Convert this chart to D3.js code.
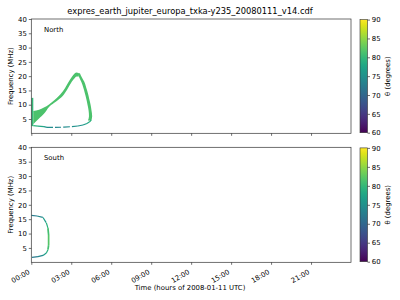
<!DOCTYPE html>
<html><head><meta charset="utf-8">
<script src="https://cdn.jsdelivr.net/npm/d3@7"></script>
<style>
html,body{margin:0;padding:0;background:#fff;}
text{font-family:"DejaVu Sans",sans-serif;fill:#000;}
</style></head>
<body><svg id="c" width="400" height="300"></svg>
<script>
// ---------- data ----------
const titleText = "expres_earth_jupiter_europa_txka-y235_20080111_v14.cdf";
const hourTicks = [0, 3, 6, 9, 12, 15, 18, 21];
const freqTicks = [5, 10, 15, 20, 25, 30, 35, 40];
const thetaTicks = [60, 65, 70, 75, 80, 85, 90];
const panelNames = ["North", "South"];

// North: vertical band at start of day
const northLeftT = [0, 0.15];
const northLeftF = [2.5, 12.4];
const northLeftTheta = 80;
// North: wedge + rising branch (frequency bounds over time)
const northRiseT   = [0.15, 0.58, 0.95, 1.33, 1.70, 2.08, 2.45, 2.75, 3.05, 3.25, 3.40, 3.55];
const northRiseFLo = [3.2,  5.2,  6.8,  9.2,  10.6, 11.9, 13.6, 15.8, 18.1, 19.3, 19.9, 19.9];
const northRiseFHi = [7.8,  8.2,  9.0,  10.1, 11.5, 13.1, 15.2, 17.6, 19.8, 20.9, 21.3, 21.1];
const northRiseTheta = 81.5;
// North: descending branch (time bounds over frequency)
const northFallF   = [21.0, 19.5, 18.0, 16.0, 14.0, 12.0, 10.0, 8.0,  6.0,  4.5];
const northFallTLo = [3.45, 3.60, 3.75, 3.90, 4.02, 4.13, 4.22, 4.30, 4.33, 4.25];
const northFallTHi = [3.65, 3.80, 3.98, 4.12, 4.25, 4.35, 4.45, 4.52, 4.57, 4.50];
const northFallTheta = 81.5;
// North: low-frequency return arc
const northLowT     = [0.15, 0.50, 0.95, 1.18, 1.78, 2.45, 3.05, 3.50, 3.88, 4.18, 4.40, 4.50];
const northLowF     = [2.7,  2.5,  2.35, 2.1,  2.05, 2.15, 2.35, 2.55, 2.9,  3.45, 4.1,  4.8];
const northLowTheta = [80,   79,   77,   75,   74,   74,   75,   75,   76,   77,   79,   80];
// South: single arc
const southT     = [0,    0.43, 0.88, 1.13, 1.25, 1.30, 1.30, 1.25, 1.13, 0.88, 0.50, 0];
const southF     = [16.3, 16.1, 15.6, 13.7, 11.9, 9.5,  6.0,  4.4,  3.2,  2.4,  2.0,  1.7];
const southTheta = [72,   73,   75,   78,   80,   82,   82,   80,   78,   75,   73,   72];

// ---------- layout ----------
const svg = d3.select("#c");
const X0 = 31.3, X1 = 351;
const panels = [{top: 19, bottom: 133.3}, {top: 147.3, bottom: 262.3}];
const CB0 = 360, CB1 = 367.5;
const FS = 6.9;

const x = d3.scaleLinear().domain([0, 24]).range([X0, X1]);
const color = d3.scaleSequential(d3.interpolateViridis).domain([60, 90]);

svg.append("text").attr("x", 190).attr("y", 13.8).attr("text-anchor", "middle")
  .style("font-size", "8.3px").text(titleText);

const defs = svg.append("defs");
const grad = defs.append("linearGradient").attr("id", "vir").attr("x1", 0).attr("y1", 1).attr("x2", 0).attr("y2", 0);
d3.range(0, 1.0001, 0.05).forEach(s => grad.append("stop").attr("offset", s).attr("stop-color", d3.interpolateViridis(s)));

panels.forEach((p, i) => {
  const y = d3.scaleLinear().domain([0, 40]).range([p.bottom, p.top]);
  p.y = y;
  const g = svg.append("g");
  defs.append("clipPath").attr("id", "clip" + i).append("rect")
    .attr("x", X0).attr("y", p.top).attr("width", X1 - X0).attr("height", p.bottom - p.top);
  const data = g.append("g").attr("clip-path", `url(#clip${i})`);
  p.data = data;

  const ya = g.append("g").attr("transform", `translate(${X0},0)`)
    .call(d3.axisLeft(y).tickValues(freqTicks).tickSize(2.5).tickPadding(2));
  const xa = g.append("g").attr("transform", `translate(0,${p.bottom})`)
    .call(d3.axisBottom(x).tickValues(hourTicks).tickSize(2.5)
      .tickFormat(i === 1 ? (h => String(h).padStart(2, "0") + ":00") : ""));
  [ya, xa].forEach(a => {
    a.select(".domain").remove();
    a.selectAll("line").attr("stroke", "#333").attr("stroke-width", 0.7);
    a.selectAll("text").style("font-size", FS + "px").attr("fill", "#000");
  });
  if (i === 1) {
    xa.selectAll("text").attr("text-anchor", "end").attr("dy", null).attr("y", null)
      .attr("transform", `translate(-1.5,11) rotate(-30)`);
  }
  g.append("rect").attr("x", X0).attr("y", p.top).attr("width", X1 - X0).attr("height", p.bottom - p.top)
    .attr("fill", "none").attr("stroke", "#333").attr("stroke-width", 0.7);

  g.append("text").attr("x", 44).attr("y", p.top + 12.8).style("font-size", FS + "px").text(panelNames[i]);
  g.append("text").attr("transform", `translate(12.5,${(p.top + p.bottom) / 2}) rotate(-90)`)
    .attr("text-anchor", "middle").style("font-size", FS + "px").text("Frequency (MHz)");

  const cs = d3.scaleLinear().domain([60, 90]).range([p.bottom - 0.6, p.top + 0.6]);
  svg.append("rect").attr("x", CB0).attr("y", p.top + 0.6).attr("width", CB1 - CB0).attr("height", p.bottom - p.top - 1.2)
    .attr("fill", "url(#vir)").attr("stroke", "#333").attr("stroke-width", 0.6);
  const ca = svg.append("g").attr("transform", `translate(${CB1},0)`)
    .call(d3.axisRight(cs).tickValues(thetaTicks).tickSize(2.5).tickPadding(1.8));
  ca.select(".domain").remove();
  ca.selectAll("line").attr("stroke", "#333").attr("stroke-width", 0.7);
  ca.selectAll("text").style("font-size", FS + "px").attr("fill", "#000");
  svg.append("text").attr("transform", `translate(390,${(p.top + p.bottom) / 2}) rotate(-90)`)
    .attr("text-anchor", "middle").style("font-size", FS + "px").text("θ (degrees)");
});

svg.append("text").attr("x", 190).attr("y", 289.5).attr("text-anchor", "middle")
  .style("font-size", FS + "px").text("Time (hours of 2008-01-11 UTC)");

// ---------- data marks ----------
const N = panels[0], S = panels[1];
N.data.append("rect")
  .attr("x", x(northLeftT[0])).attr("width", x(northLeftT[1]) - x(northLeftT[0]))
  .attr("y", N.y(northLeftF[1])).attr("height", N.y(northLeftF[0]) - N.y(northLeftF[1]))
  .attr("fill", color(northLeftTheta));
N.data.append("path")
  .datum(northRiseT.map((t, k) => ({t, lo: northRiseFLo[k], hi: northRiseFHi[k]})))
  .attr("d", d3.area().x(d => x(d.t)).y0(d => N.y(d.lo)).y1(d => N.y(d.hi)).curve(d3.curveMonotoneX))
  .attr("fill", color(northRiseTheta));
N.data.append("path")
  .datum(northFallF.map((f, k) => ({f, lo: northFallTLo[k], hi: northFallTHi[k]})))
  .attr("d", d3.area().y(d => N.y(d.f)).x0(d => x(d.lo)).x1(d => x(d.hi)).curve(d3.curveMonotoneY))
  .attr("fill", color(northFallTheta));

function arc(panel, T, F, TH, dashLimit, widthSolid, widthDash) {
  for (let k = 0; k < T.length - 1; k++) {
    const th = (TH[k] + TH[k + 1]) / 2;
    const solid = th >= dashLimit;
    panel.data.append("line")
      .attr("x1", x(T[k])).attr("y1", panel.y(F[k]))
      .attr("x2", x(T[k + 1])).attr("y2", panel.y(F[k + 1]))
      .attr("stroke", color(th))
      .attr("stroke-width", solid ? widthSolid : widthDash)
      .attr("stroke-dasharray", solid ? null : "6,2.2");
  }
}
arc(N, northLowT, northLowF, northLowTheta, 79.5, 1.4, 1.2);
arc(S, southT, southF, southTheta, 79.5, 1.7, 1.2);
</script></body></html>
